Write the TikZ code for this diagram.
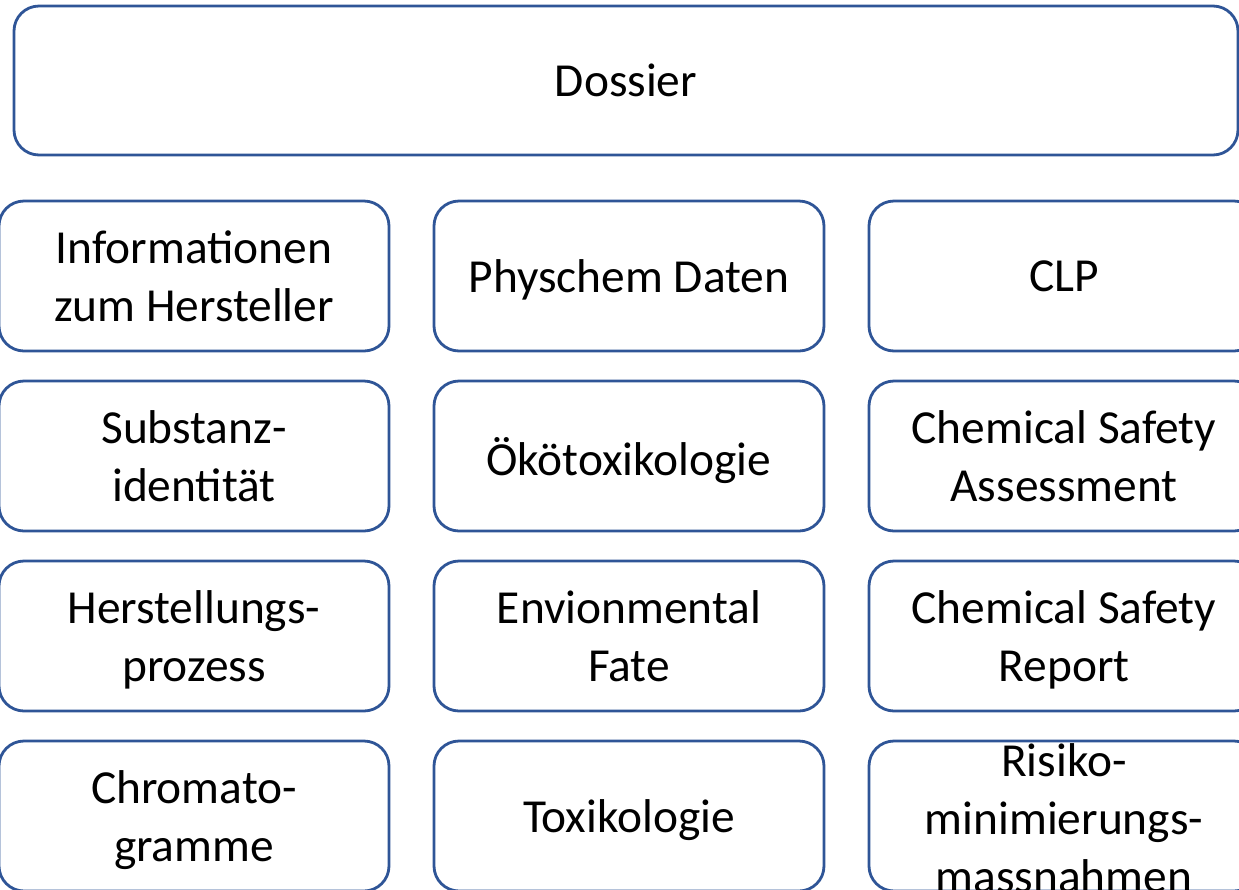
\documentclass[tikz,border=0pt]{standalone}
\usepackage{fontspec}
\setmainfont{Carlito}
\usetikzlibrary{positioning}
\definecolor{boxblue}{RGB}{47,85,151}
\newcommand\boxfont{\fontsize{23.7}{29}\selectfont}

\begin{document}
\begin{tikzpicture}[x=0.5pt, y=-0.5pt, node distance=217.5pt,
  block/.style={draw=boxblue, line width=1.4pt, rounded corners=12.5pt, fill=white,
    minimum width=195pt, minimum height=75pt, align=center, inner sep=2pt,
    text depth=0pt, font=\boxfont}]

  \useasboundingbox (0,0) rectangle (1239,890);

  % Top box
  \node[block, minimum width=612pt, minimum height=74.5pt] (dossier) at (626,80.5) {Dossier};

  % First column
  \node[block] (info) at (194,276) {Informationen\\zum Hersteller};
  \node[block, node distance=90pt, below of=info] (substanz) {Substanz-\\identität};
  \node[block, node distance=90pt, below of=substanz] (herst) {Herstellungs-\\prozess};
  \node[block, node distance=90pt, below of=herst] (chrom) {Chromato-\\gramme};

  % Second column
  \node[block, right of=info] (physchem) {Physchem Daten};
  \node[block, right of=substanz] (oeko) {Ökötoxikologie};
  \node[block, right of=herst] (envfate) {Envionmental\\Fate};
  \node[block, right of=chrom] (tox) {Toxikologie};

  % Third column
  \node[block, right of=physchem] (clp) {CLP};
  \node[block, right of=oeko] (csa) {Chemical Safety\\Assessment};
  \node[block, right of=envfate] (csr) {Chemical Safety\\Report};
  \node[block, right of=tox,
    label={[align=center, font=\boxfont, yshift=-1pt]center:Risiko-\\minimierungs-\\massnahmen}] (risiko) {};

\end{tikzpicture}
\end{document}
